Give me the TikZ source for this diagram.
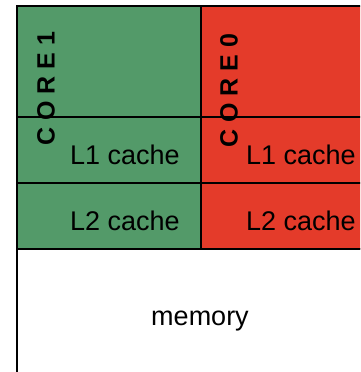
\documentclass[tikz,border=0pt]{standalone}
\usepackage{fontspec}
\setmainfont{Liberation Sans}
\definecolor{coregreen}{RGB}{83,154,105}
\definecolor{corered}{RGB}{228,59,42}
\tikzset{
  cell/.style={draw=black, line width=1.8pt},
  lab/.style={font=\fontsize{27}{32}\selectfont, anchor=base, inner sep=0pt},
  corelab/.style={font=\fontsize{25}{30}\selectfont\bfseries, rotate=90, inner sep=0pt}
}
\begin{document}
\begin{tikzpicture}[x=1pt,y=-1pt]
\useasboundingbox (0,0) rectangle (360,372);
\clip (0,0) rectangle (360,372);

% core 1 (left) and core 0 (right)
\foreach \xa/\xb/\col in {17/201/coregreen, 201/380/corered}
{
    \draw[cell, fill=\col] (\xa,6) rectangle (\xb,249);
    \draw[cell] (\xa,117) -- (\xb,117) (\xa,183) -- (\xb,183);
}
\draw[cell, fill=white] (17,249) rectangle (380,390);

\node[lab] (l1a) at (125,164) {L1 cache};
\node[lab] (l1b) at (301,164) {L1 cache};
\node[lab] (l2a) at (125,230) {L2 cache};
\node[lab] (l2b) at (301,230) {L2 cache};
\node[lab] (mem) at (200,325) {memory};

\node[corelab] (core1) at (46,89) {C O R E 1};
\node[corelab] (core0) at (229,91) {C O R E 0};
\end{tikzpicture}
\end{document}
